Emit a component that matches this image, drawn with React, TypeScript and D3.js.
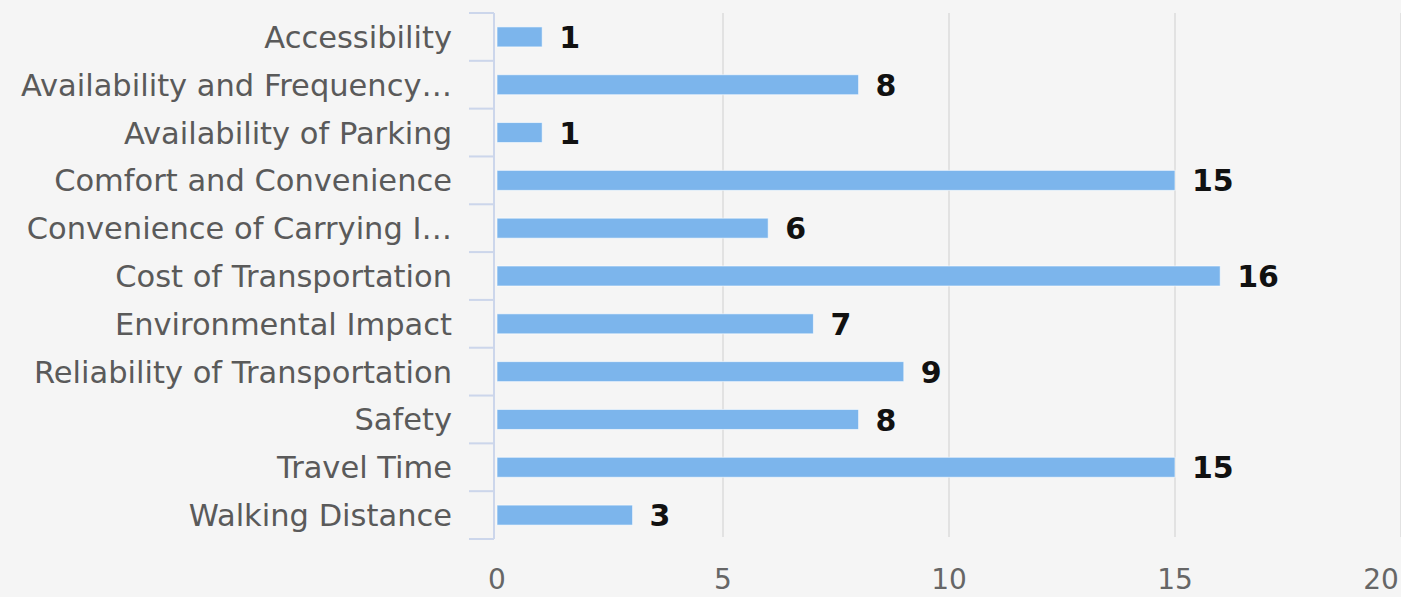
import React from "react";
import * as d3 from "d3";

const categories = [
  "Accessibility",
  "Availability and Frequency…",
  "Availability of Parking",
  "Comfort and Convenience",
  "Convenience of Carrying I…",
  "Cost of Transportation",
  "Environmental Impact",
  "Reliability of Transportation",
  "Safety",
  "Travel Time",
  "Walking Distance",
];
const values = [1, 8, 1, 15, 6, 16, 7, 9, 8, 15, 3];
const xTicks = [0, 5, 10, 15, 20];

const W = 1401;
const H = 597;
const FONT = "'DejaVu Sans', sans-serif";

export default function App() {
  const x = d3.scaleLinear().domain([0, 20]).range([497, 1401]);
  const y = d3.scaleBand<string>().domain(categories).range([13, 539]).paddingInner(0).paddingOuter(0);
  const bw = y.bandwidth();
  const barH = 20;
  const axisX = 494;

  return (
    <div style={{ position: "fixed", left: 0, top: 0, width: W, height: H, overflow: "hidden" }}>
      <svg width={W} height={H} style={{ display: "block", background: "#f5f5f5" }}>
        <rect x={0} y={0} width={W} height={H} fill="#f5f5f5" />
        {xTicks.slice(1).map((t) => (
          <line key={"g" + t} x1={x(t)} x2={x(t)} y1={13} y2={537} stroke="#e2e2e2" strokeWidth={2} />
        ))}
        <line x1={axisX} x2={axisX} y1={13} y2={539} stroke="#ccd6eb" strokeWidth={2} />
        {d3.range(categories.length + 1).map((i) => {
          const yy = 13 + i * bw;
          return <line key={"t" + i} x1={469} x2={axisX} y1={yy} y2={yy} stroke="#ccd6eb" strokeWidth={2} />;
        })}
        {categories.map((c, i) => {
          const cy = (y(c) as number) + bw / 2;
          return (
            <g key={c}>
              <text x={452} y={cy} dy="0.36em" textAnchor="end" fontFamily={FONT} fontSize={30.5} fill="#5a5a5a">
                {c}
              </text>
              <rect x={x(0)} y={cy - barH / 2} width={x(values[i]) - x(0)} height={barH} fill="#7cb5ec" stroke="#ffffff" strokeWidth={1} strokeOpacity={0.6} />
              <text x={x(values[i]) + 17} y={cy} dy="0.37em" fontFamily={FONT} fontSize={30} fontWeight="bold" fill="#111">
                {values[i]}
              </text>
            </g>
          );
        })}
        {xTicks.map((t) => {
          const px = Math.min(x(t), W - 20);
          return (
            <text key={"l" + t} x={px} y={589} textAnchor="middle" fontFamily={FONT} fontSize={28} fill="#666666">
              {t}
            </text>
          );
        })}
      </svg>
    </div>
  );
}
